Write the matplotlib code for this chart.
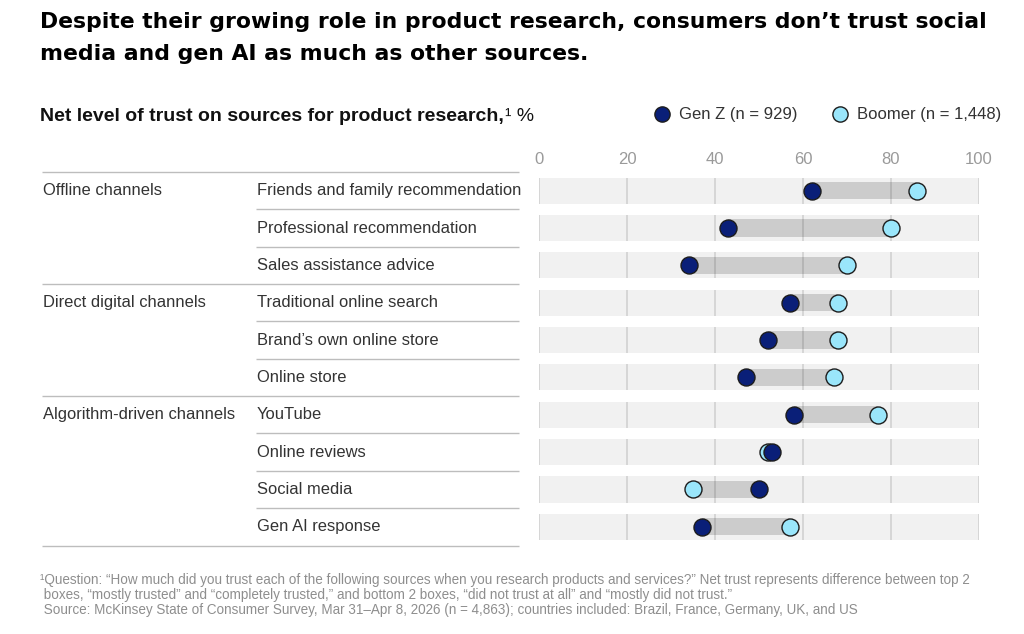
import matplotlib
matplotlib.use("Agg")
import matplotlib.pyplot as plt
import numpy as np

# ---- data ----
groups = ["Offline channels", "Direct digital channels", "Algorithm-driven channels"]
group_sizes = [3, 3, 4]
sources = [
    "Friends and family recommendation",
    "Professional recommendation",
    "Sales assistance advice",
    "Traditional online search",
    "Brand\u2019s own online store",
    "Online store",
    "YouTube",
    "Online reviews",
    "Social media",
    "Gen AI response",
]
gen_z = [62, 43, 34, 57, 52, 47, 58, 53, 50, 37]
boomer = [86, 80, 70, 68, 68, 67, 77, 52, 35, 57]
x_ticks = [0, 20, 40, 60, 80, 100]
series_labels = ["Gen Z (n = 929)", "Boomer (n = 1,448)"]

title_lines = [
    "Despite their growing role in product research, consumers don\u2019t trust social",
    "media and gen AI as much as other sources.",
]
subtitle = "Net level of trust on sources for product research,"
footnote = [
    "\u00b9Question: \u201cHow much did you trust each of the following sources when you research products and services?\u201d Net trust represents difference between top 2",
    " boxes, \u201cmostly trusted\u201d and \u201ccompletely trusted,\u201d and bottom 2 boxes, \u201cdid not trust at all\u201d and \u201cmostly did not trust.\u201d",
    " Source: McKinsey State of Consumer Survey, Mar 31\u2013Apr 8, 2026 (n = 4,863); countries included: Brazil, France, Germany, UK, and US",
]

NAVY = "#0a1f78"
CYAN = "#9ae6fb"
EDGE = "#1c1c1c"
TXT = "#333333"
BODY = ["Liberation Sans", "DejaVu Sans"]

W, H = 1024, 634
fig = plt.figure(figsize=(W / 100, H / 100), dpi=100)

# overlay axes in pixel coordinates for the table and text
ov = fig.add_axes([0, 0, 1, 1])
ov.set_xlim(0, W)
ov.set_ylim(H, 0)
ov.axis("off")

top_px, row_h = 172.0, 37.35
n = len(sources)
x0_px, x1_px = 539.0, 979.0

ax = fig.add_axes([x0_px / W, 1 - (top_px + n * row_h) / H,
                   (x1_px - x0_px) / W, n * row_h / H])
ax.set_xlim(0, 100)
ax.set_ylim(n, 0)
y = np.arange(n) + 0.5

band_h, bar_h = 0.70, 0.46
ax.barh(y, 100, left=0, height=band_h, color="#f1f1f1", zorder=1)
lo = np.minimum(gen_z, boomer)
hi = np.maximum(gen_z, boomer)
ax.barh(y, hi - lo, left=lo, height=bar_h, color="#cccccc", zorder=2)
for yi in y:
    ax.vlines(x_ticks, yi - band_h / 2, yi + band_h / 2,
              color=(0, 0, 0, 0.13), lw=1.2, zorder=3)
ax.scatter(boomer, y, s=150, color=CYAN, edgecolor=EDGE, lw=1.0, zorder=4)
ax.scatter(gen_z, y, s=150, color=NAVY, edgecolor=EDGE, lw=1.0, zorder=5)

ax.xaxis.tick_top()
ax.set_xticks(x_ticks)
ax.set_xticklabels([str(t) for t in x_ticks], color="#9a9a9a",
                   fontsize=12, family=BODY)
ax.tick_params(axis="x", length=0, pad=3.5)
ax.set_yticks([])
for s in ax.spines.values():
    s.set_visible(False)

# table lines and labels
left_px, inner_px, right_px = 42, 256, 519
ov.hlines(top_px, left_px, right_px, color="#bdbdbd", lw=1)
starts = np.cumsum([0] + group_sizes)
for k in range(1, n + 1):
    yy = top_px + k * row_h
    full = k in starts
    ov.hlines(yy, left_px if full else inner_px, right_px, color="#bdbdbd", lw=1)
for i, lab in enumerate(sources):
    ov.text(inner_px + 1, top_px + (i + 0.5) * row_h, lab, fontsize=11.9,
            color=TXT, va="center", family=BODY)
for g, s0 in zip(groups, starts[:-1]):
    ov.text(left_px + 1, top_px + (s0 + 0.5) * row_h, g, fontsize=11.9,
            color=TXT, va="center", family=BODY)

# title: fit the first line to the reference width (~947 px)
title_txt = []
for i, line in enumerate(title_lines):
    title_txt.append(ov.text(40, 28 + i * 32, line, fontsize=16, fontweight="bold",
                             color="#000000", va="baseline",
                             family=["DejaVu Sans"]))
fig.canvas.draw()
w0 = title_txt[0].get_window_extent().width
for t in title_txt:
    t.set_fontsize(16 * 947 / w0)

st = ov.text(40, 121, subtitle, fontsize=14, fontweight="bold", color="#111111",
             va="baseline", family=BODY)
fig.canvas.draw()
bb = st.get_window_extent()
ov.text(bb.x1 + 1, 121, "\u00b9 %", fontsize=14, color="#111111",
        va="baseline", family=BODY)

# legend
ov.scatter([662], [114], s=120, color=NAVY, edgecolor=EDGE, lw=1.0)
ov.text(679, 114, series_labels[0], fontsize=12, color=TXT, va="center", family=BODY)
ov.scatter([840], [114], s=120, color=CYAN, edgecolor=EDGE, lw=1.0)
ov.text(857, 114, series_labels[1], fontsize=12, color=TXT, va="center", family=BODY)

# footnote
for i, line in enumerate(footnote):
    ov.text(40, 580 + i * 15, line, fontsize=9.75, color="#8e8e8e", va="center",
            family=BODY)

fig.savefig("out.png", dpi=100)
